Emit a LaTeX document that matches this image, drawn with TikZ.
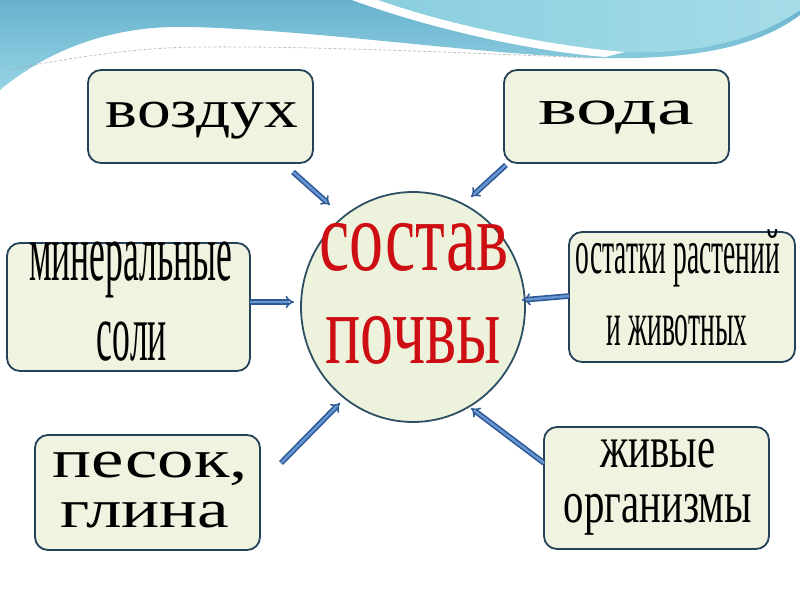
\documentclass[tikz,border=0pt]{standalone}
\usepackage{fontspec}
\setmainfont{Liberation Serif}
\usetikzlibrary{arrows.meta,shapes.geometric}
\definecolor{boxfill}{RGB}{239,243,223}
\definecolor{boxline}{RGB}{38,66,88}
\definecolor{circfill}{RGB}{236,242,220}
\definecolor{circline}{RGB}{45,80,100}
\definecolor{arrdark}{RGB}{45,90,150}
\definecolor{arrlight}{RGB}{105,150,210}
\definecolor{titlered}{RGB}{205,15,20}
\definecolor{wavetop}{RGB}{104,178,206}
\definecolor{wavebot}{RGB}{150,212,228}
\definecolor{wavelight}{RGB}{165,220,232}
\definecolor{wavelight2}{RGB}{138,206,222}
\tikzset{
  box/.style={draw=boxline, line width=1.8pt, fill=boxfill, rounded corners=13pt, inner sep=0pt},
  core/.style={ellipse, draw=circline, line width=1.8pt, fill=circfill, inner sep=0pt, minimum width=224pt, minimum height=230pt},
  arr/.style={draw=arrdark, double=arrlight, double distance=2.4pt, line width=1.6pt, -{Implies}},
  lbl/.style={anchor=base, inner sep=0pt},
}
\begin{document}
\begin{tikzpicture}[x=1pt,y=-1pt]
\useasboundingbox (0,0) rectangle (800,600);
\fill[white] (0,0) rectangle (800,600);
% top wave
\shade[top color=wavetop, bottom color=wavebot] (0,0) -- (800,0) -- (800,15) .. controls (760,45) and (700,60) .. (600,58) .. controls (480,55) and (320,30) .. (190,27) .. controls (130,25) and (60,40) .. (0,90) -- cycle;
\shade[left color=wavelight2, right color=wavelight] (378,0) .. controls (440,22) and (540,45) .. (625,52) .. controls (700,55) and (760,38) .. (800,10) -- (800,0) -- cycle;
\fill[white] (352,0) .. controls (420,25) and (520,50) .. (605,57) -- (625,52) .. controls (540,45) and (440,22) .. (378,0) -- cycle;
\draw[gray!70, line width=0.8pt, dash pattern=on 3pt off 2pt, opacity=0.7] (10,70) .. controls (80,55) and (150,47) .. (200,47) .. controls (300,46) and (450,52) .. (590,58);

% central ellipse
\node[core] (core) at (413,307) {};
\node[lbl, text=titlered, font=\fontsize{100}{100}\selectfont] (t1) at (414,270) {\scalebox{0.68}[1]{состав}};
\node[lbl, text=titlered, font=\fontsize{100}{100}\selectfont] (t2) at (413,363) {\scalebox{0.66}[1]{почвы}};

% boxes
\node[box, minimum width=225pt, minimum height=93pt] (vozd) at (200.5,116.5) {};
\node[box, minimum width=225pt, minimum height=93pt] (voda) at (616.5,116.5) {};
\node[box, minimum width=243pt, minimum height=128pt] (min) at (128.5,307) {};
\node[box, minimum width=226pt, minimum height=130pt] (ost) at (682,297) {};
\node[box, minimum width=225pt, minimum height=115pt] (pes) at (147.5,492.5) {};
\node[box, minimum width=225pt, minimum height=122pt] (ziv) at (656.5,488) {};

% texts
\node[lbl, font=\fontsize{54}{54}\selectfont] (tvozd) at (202,127) {\scalebox{1.25}[1]{воздух}};
\node[lbl, font=\fontsize{50}{50}\selectfont] (tvoda) at (616,124) {\scalebox{1.65}[1]{вода}};
\node[lbl, font=\fontsize{82}{82}\selectfont] (tmin1) at (131,280) {\scalebox{0.435}[1]{минеральные}};
\node[lbl, font=\fontsize{82}{82}\selectfont] (tmin2) at (132,360) {\scalebox{0.435}[1]{соли}};
\node[lbl, font=\fontsize{64}{64}\selectfont] (tost1) at (678,273) {\scalebox{0.43}[1]{остатки растений}};
\node[lbl, font=\fontsize{64}{64}\selectfont] (tost2) at (677,345) {\scalebox{0.43}[1]{и животных}};
\node[lbl, font=\fontsize{54}{54}\selectfont] (tpes1) at (150,477) {\scalebox{1.35}[1]{песок,}};
\node[lbl, font=\fontsize{54}{54}\selectfont] (tpes2) at (145,527) {\scalebox{1.32}[1]{глина}};
\node[lbl, font=\fontsize{60}{60}\selectfont] (tziv1) at (658,467) {\scalebox{0.68}[1]{живые}};
\node[lbl, font=\fontsize{60}{60}\selectfont] (tziv2) at (658,522) {\scalebox{0.68}[1]{организмы}};

% arrow endpoints
\coordinate (a1s) at (293,172); \coordinate (a1e) at (330,205);
\coordinate (a2s) at (506,165); \coordinate (a2e) at (471,197);
\coordinate (a3s) at (250,302); \coordinate (a3e) at (294,302);
\coordinate (a4s) at (569,296); \coordinate (a4e) at (522,300);
\coordinate (a5s) at (281,463); \coordinate (a5e) at (340,403);
\coordinate (a6s) at (544,463); \coordinate (a6e) at (471,408);
\draw[arr] (a1s) -- (a1e);
\draw[arr] (a2s) -- (a2e);
\draw[arr] (a3s) -- (a3e);
\draw[arr] (a4s) -- (a4e);
\draw[arr] (a5s) -- (a5e);
\draw[arr] (a6s) -- (a6e);
\end{tikzpicture}
\end{document}
